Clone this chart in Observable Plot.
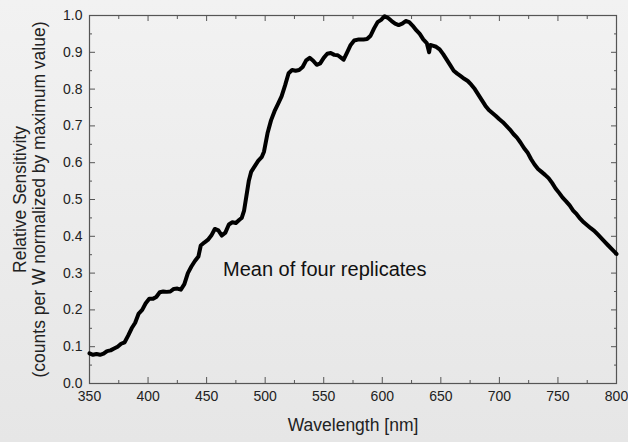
<!DOCTYPE html>
<html>
<head>
<meta charset="utf-8">
<script src="https://cdn.jsdelivr.net/npm/d3@7"></script>
<script src="https://cdn.jsdelivr.net/npm/@observablehq/plot@0.6"></script>
<style>
  html, body { margin: 0; padding: 0; }
  body { width: 628px; height: 442px; background: linear-gradient(#f2f2f2, #e6e6e6); overflow: hidden; }
  svg { display: block; }
</style>
</head>
<body>
<div id="chart"></div>
<script>
const wavelength = [350,353,356,359,362,365,368,371,374,377,380,383,386,389,392,395,398,401,404,407,410,413,416,419,422,425,428,431,434,437,440,443,445,448,451,454,457,460,463,466,469,472,475,478,480,482,484,486,488,491,494,497,499,502,505,508,511,514,517,520,523,526,529,532,535,538,541,544,547,550,553,556,559,562,565,567,570,573,576,580,584,587,590,593,596,599,602,605,608,611,614,617,620,623,626,629,632,635,638,640,641,643,646,649,652,655,658,661,664,667,670,673,676,679,682,685,688,691,694,697,700,703,706,709,712,715,718,721,724,727,730,733,736,739,742,745,748,751,754,757,760,763,766,769,772,775,778,781,784,787,790,793,796,800];
const sensitivity = [0.082,0.078,0.080,0.078,0.081,0.088,0.090,0.095,0.100,0.108,0.112,0.130,0.150,0.165,0.190,0.200,0.218,0.230,0.230,0.235,0.248,0.250,0.249,0.250,0.257,0.258,0.255,0.270,0.300,0.318,0.333,0.345,0.375,0.383,0.390,0.402,0.420,0.416,0.402,0.410,0.432,0.438,0.436,0.445,0.450,0.470,0.510,0.550,0.575,0.590,0.605,0.615,0.630,0.680,0.715,0.740,0.760,0.780,0.810,0.843,0.852,0.850,0.852,0.860,0.878,0.885,0.877,0.866,0.870,0.885,0.896,0.898,0.893,0.892,0.885,0.880,0.900,0.920,0.932,0.935,0.935,0.936,0.945,0.965,0.982,0.988,0.998,0.993,0.985,0.978,0.974,0.978,0.985,0.982,0.972,0.960,0.950,0.935,0.925,0.900,0.920,0.918,0.915,0.908,0.895,0.880,0.865,0.850,0.842,0.835,0.828,0.822,0.812,0.800,0.785,0.770,0.755,0.743,0.735,0.727,0.718,0.710,0.700,0.690,0.678,0.668,0.655,0.640,0.628,0.610,0.595,0.583,0.575,0.567,0.558,0.545,0.530,0.518,0.505,0.495,0.484,0.470,0.460,0.448,0.438,0.430,0.422,0.415,0.405,0.395,0.385,0.375,0.365,0.352];

const xMajorTicks = [350,400,450,500,550,600,650,700,750,800];
const xMinorTicks = [375,425,475,525,575,625,675,725,775];
const yMajorTicks = [0.0,0.1,0.2,0.3,0.4,0.5,0.6,0.7,0.8,0.9,1.0];
const yMinorTicks = [0.05,0.15,0.25,0.35,0.45,0.55,0.65,0.75,0.85,0.95];

const xLabel = "Wavelength [nm]";
const yLabel = "Relative Sensitivity\n(counts per W normalized by maximum value)";
const notes = [{wavelength: 464, value: 0.31, text: "Mean of four replicates"}];

const data = wavelength.map((w, i) => ({wavelength: w, value: sensitivity[i]}));

const font = "'Liberation Sans', Arial, sans-serif";
const axisColor = "#555";

const plot = Plot.plot({
  width: 628,
  height: 442,
  marginLeft: 89,
  marginRight: 12,
  marginTop: 15,
  marginBottom: 59,
  style: {background: "transparent", fontFamily: font, color: "#222"},
  x: {domain: [350, 800]},
  y: {domain: [0, 1]},
  marks: [
    Plot.axisX(xMajorTicks, {anchor: "bottom", tickSize: -6, text: null, stroke: axisColor, label: null}),
    Plot.axisX(xMinorTicks, {anchor: "bottom", tickSize: -3, text: null, stroke: axisColor, label: null}),
    Plot.axisX(xMajorTicks, {anchor: "top", tickSize: -5, text: null, stroke: axisColor, label: null}),
    Plot.axisX(xMinorTicks, {anchor: "top", tickSize: -3, text: null, stroke: axisColor, label: null}),
    Plot.axisY(yMajorTicks, {anchor: "left", tickSize: -6, text: null, stroke: axisColor, label: null}),
    Plot.axisY(yMinorTicks, {anchor: "left", tickSize: -3, text: null, stroke: axisColor, label: null}),
    Plot.axisY(yMajorTicks, {anchor: "right", tickSize: -6, text: null, stroke: axisColor, label: null}),
    Plot.axisY(yMinorTicks, {anchor: "right", tickSize: -3, text: null, stroke: axisColor, label: null}),
    Plot.axisX(xMajorTicks, {anchor: "bottom", tickSize: 0, tickPadding: 8, fontSize: 14, fill: "#222", label: null, tickFormat: d3.format("d")}),
    Plot.axisY(yMajorTicks, {anchor: "left", tickSize: 0, tickPadding: 7, fontSize: 14, fill: "#222", label: null, tickFormat: d3.format(".1f")}),
    Plot.frame({stroke: axisColor, strokeWidth: 1.2}),
    Plot.line(data, {x: "wavelength", y: "value", stroke: "black", strokeWidth: 4, strokeLinejoin: "round", strokeLinecap: "round"}),
    Plot.text(notes, {x: "wavelength", y: "value", text: "text", textAnchor: "start", fontSize: 20, fill: "#111"}),
    Plot.text([xLabel], {frameAnchor: "bottom", dy: 47, textAnchor: "middle", text: d => d, fontSize: 17.5, fill: "#222"}),
    Plot.text([yLabel], {frameAnchor: "left", dx: -60, rotate: -90, textAnchor: "middle", lineAnchor: "middle", text: d => d, fontSize: 17.5, lineHeight: 1.1, fill: "#222"})
  ]
});
document.getElementById("chart").appendChild(plot);
</script>
</body>
</html>
